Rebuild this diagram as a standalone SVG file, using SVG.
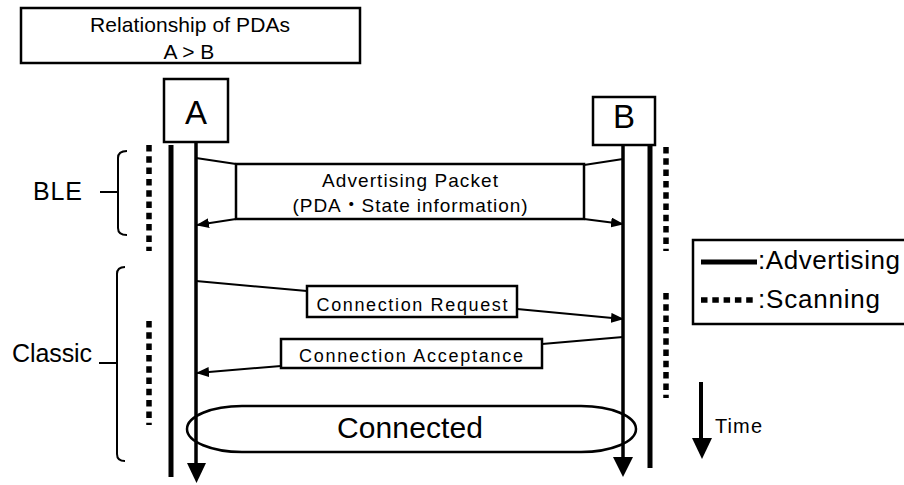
<svg xmlns="http://www.w3.org/2000/svg" width="904" height="485" viewBox="0 0 904 485">
<style>
text{font-family:"Liberation Sans",Arial,"Noto Sans CJK JP",sans-serif;fill:#000}
.box{fill:#fff;stroke:#000;stroke-width:2.5}
.thin{stroke:#000;stroke-width:3.5;fill:none}
.thick{stroke:#000;stroke-width:5;fill:none}
.dot{stroke:#000;stroke-width:5.5;stroke-dasharray:6.5 4.8;fill:none}
.msg{stroke:#000;stroke-width:2;fill:none}
.br{stroke:#000;stroke-width:2;fill:none}
</style>
<defs>
<marker id="ah" markerWidth="13" markerHeight="10" refX="12" refY="5" orient="auto" markerUnits="userSpaceOnUse"><path d="M0,0 L13,5 L0,10 z" fill="#000"/></marker>
</defs>
<rect width="904" height="485" fill="#fff"/>

<g id="title">
<rect class="box" x="21" y="8" width="339" height="55"/>
<text x="190" y="32" font-size="21" text-anchor="middle" textLength="200">Relationship of PDAs</text>
<text x="189" y="59" font-size="21" text-anchor="middle">A &gt; B</text>
</g>

<g id="ble-label">
<text x="33" y="200" font-size="25" textLength="49">BLE</text>
<path class="br" d="M127,151 Q118,151 118,158 L118,228 Q118,235 127,235 M100,192 L118,192"/>
</g>
<g id="classic-label">
<text x="12" y="362" font-size="25" textLength="80">Classic</text>
<path class="br" d="M125,267 Q117,267 117,274 L117,454 Q117,461 125,461 M99,363 L117,363"/>
</g>

<g id="connectors">
<line class="dot" x1="149" y1="145" x2="149" y2="251"/>
<line class="dot" x1="149" y1="321" x2="149" y2="425"/>
<line class="dot" x1="666" y1="147" x2="666" y2="251"/>
<line class="dot" x1="666" y1="293" x2="666" y2="398"/>
<line class="thick" x1="171" y1="145" x2="171" y2="477"/>
<line class="thick" x1="650" y1="145" x2="650" y2="468"/>
<path class="msg" d="M196,158 L236,164"/>
<path class="msg" d="M236,219 L197,225" marker-end="url(#ah)"/>
<path class="msg" d="M584,165 L623,159"/>
<path class="msg" d="M584,219 L623,224" marker-end="url(#ah)"/>
<path class="msg" d="M196,281 L307,291"/>
<path class="msg" d="M517,309 L623,319" marker-end="url(#ah)"/>
<path class="msg" d="M623,337 L542,344"/>
<path class="msg" d="M281,366 L197,373" marker-end="url(#ah)"/>
</g>

<g id="adv-packet">
<rect class="box" x="236" y="164" width="348" height="55"/>
<text x="410" y="187" font-size="19" text-anchor="middle" textLength="176">Advertising Packet</text>
<text x="410" y="212" font-size="19" text-anchor="middle" textLength="235">(PDA・State information)</text>
</g>

<g id="conn-request">
<rect class="box" x="307" y="286" width="210" height="31"/>
<text x="412" y="311" font-size="18" text-anchor="middle" textLength="191">Connection Request</text>
</g>

<g id="conn-accept">
<rect class="box" x="281" y="339" width="261" height="29"/>
<text x="411" y="362" font-size="18" text-anchor="middle" textLength="224">Connection Acceptance</text>
</g>

<g id="connected">
<rect x="187" y="406" width="449" height="46" rx="55" ry="23" fill="#fff" stroke="#000" stroke-width="2.5"/>
<text x="410" y="438" font-size="30" text-anchor="middle" textLength="146">Connected</text>
</g>

<g id="lifelines">
<line class="thin" x1="196" y1="142" x2="196" y2="464"/>
<polygon points="187,463 206,463 196.5,483"/>
<line class="thin" x1="623" y1="145" x2="623" y2="458"/>
<polygon points="613,457 633,457 623,477"/>
</g>

<g id="node-A">
<rect class="box" x="164" y="79" width="64" height="63"/>
<text x="196" y="124" font-size="33" text-anchor="middle">A</text>
</g>
<g id="node-B">
<rect class="box" x="593" y="97" width="62" height="48"/>
<text x="624" y="128" font-size="33" text-anchor="middle">B</text>
</g>

<g id="legend">
<rect class="box" x="693" y="240" width="220" height="84"/>
<line x1="701" y1="262" x2="757" y2="262" stroke="#000" stroke-width="5"/>
<text x="758" y="269" font-size="26" textLength="142">:Advertising</text>
<line class="dot" x1="701" y1="300" x2="757" y2="300"/>
<text x="758" y="308" font-size="26" textLength="122">:Scanning</text>
</g>

<g id="time">
<line x1="701" y1="382" x2="701" y2="440" stroke="#000" stroke-width="4"/>
<polygon points="692,438 712,438 702,459"/>
<text x="715" y="433" font-size="20" textLength="47">Time</text>
</g>
</svg>
